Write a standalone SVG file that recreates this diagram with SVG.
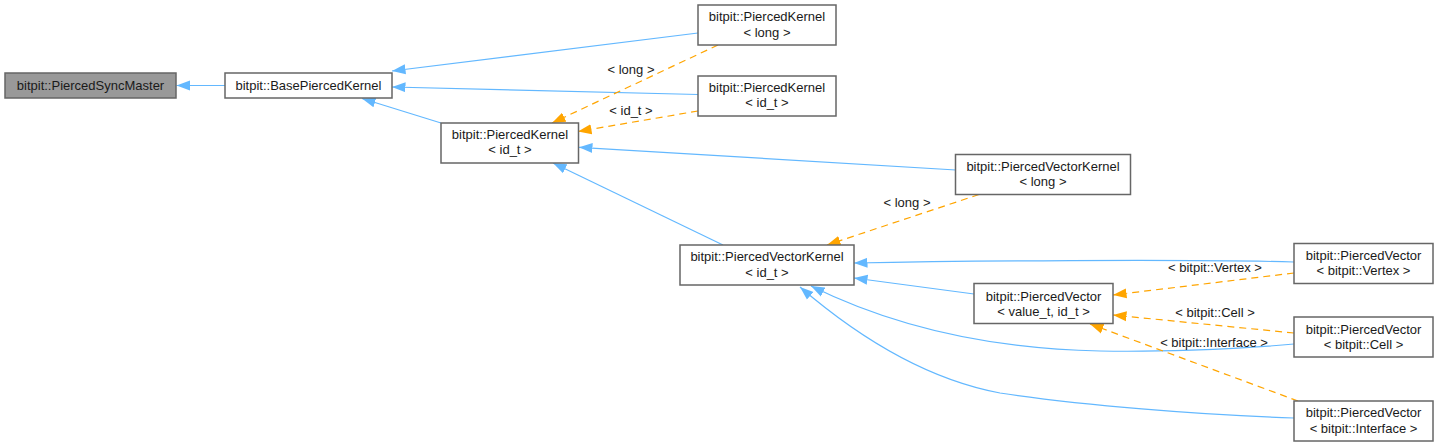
<svg xmlns="http://www.w3.org/2000/svg" width="1439" height="447" viewBox="0 0 1439 447">
<style>
.node rect{fill:#ffffff;stroke:#666666;stroke-width:1.5}
.node.hl rect{fill:#999999}
text{font-family:"Liberation Sans",Arial,Helvetica,sans-serif;font-size:13px;fill:#1a1a1a;text-anchor:middle}
.e{fill:none;stroke:#63b8ff;stroke-width:1.2}
.t{fill:none;stroke:#ffa500;stroke-width:1.2;stroke-dasharray:7,5}
</style>
<defs>
<marker id="ab" markerUnits="userSpaceOnUse" markerWidth="14" markerHeight="11" refX="13.5" refY="5" orient="auto" viewBox="0 0 14 10"><path d="M0,0 L13.5,5 L0,10 z" fill="#63b8ff"/></marker>
<marker id="ao" markerUnits="userSpaceOnUse" markerWidth="14" markerHeight="11" refX="13.5" refY="5" orient="auto" viewBox="0 0 14 10"><path d="M0,0 L13.5,5 L0,10 z" fill="#ffa500"/></marker>
</defs>
<rect width="1439" height="447" fill="#ffffff"/>
<g id="edges">
<path class="e" marker-end="url(#ab)" d="M225,85.5 L176.5,85.5"/>
<path class="e" marker-end="url(#ab)" d="M698,33 L392,71"/>
<path class="e" marker-end="url(#ab)" d="M698,94.5 L392,87"/>
<path class="e" marker-end="url(#ab)" d="M441,123 L362,98.5"/>
<path class="t" marker-end="url(#ao)" d="M718,45 L552,123"/>
<path class="t" marker-end="url(#ao)" d="M698,111 L578,131.5"/>
<path class="e" marker-end="url(#ab)" d="M956,170 L579,147.3"/>
<path class="e" marker-end="url(#ab)" d="M723,245 L553,163"/>
<path class="t" marker-end="url(#ao)" d="M979,194.5 L827,245"/>
<path class="e" marker-end="url(#ab)" d="M1294,262 C1180,259 960,261 854,263"/>
<path class="e" marker-end="url(#ab)" d="M974,294 L854,278"/>
<path class="e" marker-end="url(#ab)" d="M1294,344 C1230,350 1150,352 1100,351 C1000,349 900,330 811,286"/>
<path class="e" marker-end="url(#ab)" d="M1294,418 C1200,415 1080,405 1000,393 C920,378 850,330 800,287"/>
<path class="t" marker-end="url(#ao)" d="M1294,273 L1113,295"/>
<path class="t" marker-end="url(#ao)" d="M1294,333 L1113,315"/>
<path class="t" marker-end="url(#ao)" d="M1298,401 L1090,324"/>
<text x="631" y="74">&lt; long &gt;</text>
<text x="631" y="115">&lt; id_t &gt;</text>
<text x="907" y="207">&lt; long &gt;</text>
<text x="1215" y="272">&lt; bitpit::Vertex &gt;</text>
<text x="1215" y="317">&lt; bitpit::Cell &gt;</text>
<text x="1214" y="347">&lt; bitpit::Interface &gt;</text>
</g>
<g id="n_sync" class="node hl"><rect x="5" y="73" width="171" height="25"/><text x="90.5" y="90">bitpit::PiercedSyncMaster</text></g>
<g id="n_base" class="node"><rect x="225" y="73" width="167" height="25"/><text x="308.5" y="90">bitpit::BasePiercedKernel</text></g>
<g id="n_pk_mid" class="node"><rect x="441" y="123" width="137.5" height="40"/><text x="510" y="138.5">bitpit::PiercedKernel</text><text x="510" y="153.5">&lt; id_t &gt;</text></g>
<g id="n_pk_long" class="node"><rect x="698" y="5" width="138" height="40"/><text x="767" y="21">bitpit::PiercedKernel</text><text x="767" y="36.5">&lt; long &gt;</text></g>
<g id="n_pk_idt" class="node"><rect x="698" y="76" width="138" height="40"/><text x="767" y="92">bitpit::PiercedKernel</text><text x="767" y="107">&lt; id_t &gt;</text></g>
<g id="n_pvk_long" class="node"><rect x="955.5" y="154.5" width="175" height="40"/><text x="1043" y="171">bitpit::PiercedVectorKernel</text><text x="1043" y="186">&lt; long &gt;</text></g>
<g id="n_pvk_idt" class="node"><rect x="680" y="245" width="174" height="40"/><text x="767" y="261">bitpit::PiercedVectorKernel</text><text x="767" y="276.5">&lt; id_t &gt;</text></g>
<g id="n_pv" class="node"><rect x="974" y="283.5" width="139" height="40"/><text x="1043.5" y="300.5">bitpit::PiercedVector</text><text x="1043.5" y="315.5">&lt; value_t, id_t &gt;</text></g>
<g id="n_pv_vertex" class="node"><rect x="1294" y="243.5" width="139" height="40"/><text x="1363.5" y="260">bitpit::PiercedVector</text><text x="1363.5" y="275">&lt; bitpit::Vertex &gt;</text></g>
<g id="n_pv_cell" class="node"><rect x="1294" y="317" width="139" height="40"/><text x="1363.5" y="333.5">bitpit::PiercedVector</text><text x="1363.5" y="348.5">&lt; bitpit::Cell &gt;</text></g>
<g id="n_pv_iface" class="node"><rect x="1294" y="401" width="139" height="40"/><text x="1363.5" y="417">bitpit::PiercedVector</text><text x="1363.5" y="432.5">&lt; bitpit::Interface &gt;</text></g>
</svg>
